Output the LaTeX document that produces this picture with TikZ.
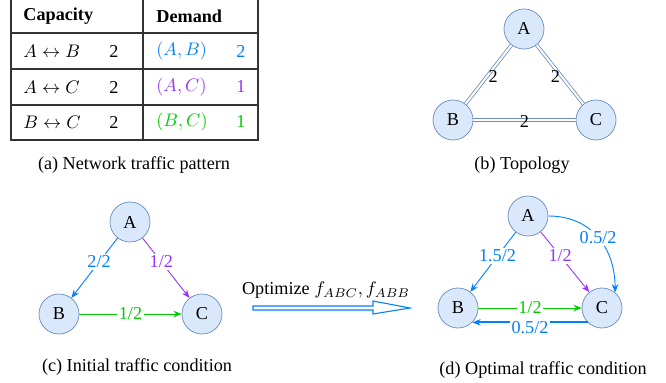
\documentclass[tikz,border=0pt]{standalone}
\usepackage{fontspec}
\setmainfont{Liberation Serif}
\usetikzlibrary{arrows.meta}
\definecolor{nodefill}{HTML}{DAE8FC}
\definecolor{nodeline}{HTML}{6C8EBF}
\definecolor{flowblue}{HTML}{007FFF}
\definecolor{flowpurple}{HTML}{9933FF}
\definecolor{flowgreen}{HTML}{00CC00}
\tikzset{
  site/.style={circle,draw=nodeline,fill=nodefill,minimum size=22pt,inner sep=0pt},
  link/.style={draw=nodeline,double=white,double distance=1.1pt,line width=0.45pt},
  flow/.style={-{Stealth[length=4.5pt,width=3.6pt]},line width=0.5pt},
  lbl/.style={fill=white,inner sep=1pt},
}
\begin{document}
\begin{tikzpicture}[x=0.55pt,y=-0.55pt,font=\fontsize{10}{12}\selectfont]
  \useasboundingbox (0,0) rectangle (666,383);
  % (a) table
  \draw[black!80,line width=0.6pt] (11,-3) rectangle (258,140);
  \draw[black!80,line width=0.6pt] (143,-3) -- (143,140);
  \foreach \y in {33,69,105}
    \draw[black!80,line width=0.6pt] (11,\y) -- (258,\y);
  \node[anchor=west] (hcap) at (17,16) {\textbf{Capacity}};
  \node[anchor=west] (hdem) at (150,16) {\textbf{Demand}};
  \node[anchor=west] (ab) at (17,51) {$A\leftrightarrow B$};
  \node[anchor=west] (ac) at (17,87) {$A\leftrightarrow C$};
  \node[anchor=west] (bc) at (17,122) {$B\leftrightarrow C$};
  \node (abv) at (114,51) {2};
  \node (acv) at (114,87) {2};
  \node (bcv) at (114,122) {2};
  \node[anchor=west,flowblue] (dab) at (150,51) {$(A,B)$};
  \node[anchor=west,flowpurple] (dac) at (150,87) {$(A,C)$};
  \node[anchor=west,flowgreen] (dbc) at (150,122) {$(B,C)$};
  \node[flowblue] (dabv) at (241,51) {2};
  \node[flowpurple] (dacv) at (241,87) {1};
  \node[flowgreen] (dbcv) at (241,122) {1};
  \node (capa) at (134,165) {(a) Network traffic pattern};
  % (b) topology
  \node[site] (a1) at (524,29) {A};
  \node[site] (b1) at (453,120) {B};
  \node[site] (c1) at (596,120) {C};
  \draw[link] (a1) -- node[xshift=2.5pt,yshift=-1pt] {2} (b1);
  \draw[link] (a1) -- node[xshift=-2.5pt,yshift=-1pt] {2} (c1);
  \draw[link] (b1) -- node[yshift=-1pt] {2} (c1);
  \node (capb) at (522,165) {(b) Topology};
  % (c) initial
  \node[site] (a2) at (130,222) {A};
  \node[site] (b2) at (59,314) {B};
  \node[site] (c2) at (202,314) {C};
  \draw[flow,flowblue] (a2) -- node[lbl,pos=0.4] {2/2} (b2);
  \draw[flow,flowpurple] (a2) -- node[lbl,pos=0.4] {1/2} (c2);
  \draw[flow,flowgreen] (b2) -- node[lbl] {1/2} (c2);
  \node (capc) at (137,367) {(c) Initial traffic condition};
  % optimize arrow
  \node (opt) at (326,290) {Optimize $f_{ABC},f_{ABB}$};
  \draw[flowblue,line width=0.6pt,fill=white]
    (253,306) -- (373,306) -- (373,301) -- (410,308) -- (373,314)
    -- (373,310) -- (253,310) -- cycle;
  % (d) optimal
  \node[site] (a3) at (528,216) {A};
  \node[site] (b3) at (458,308) {B};
  \node[site] (c3) at (602,308) {C};
  \draw[flow,flowblue] (a3) -- node[lbl,pos=0.4] {1.5/2} (b3);
  \draw[flow,flowpurple] (a3) -- node[lbl,pos=0.4] {1/2} (c3);
  \draw[flow,flowblue] (a3.east) to[out=0,in=90,looseness=1.1]
    node[lbl,pos=0.5] {0.5/2} (c3.50);
  \draw[flow,flowgreen] (b3) -- node[lbl] {1/2} (c3);
  \draw[flow,flowblue,line width=1pt] (c3.225) -- node[lbl,yshift=-3pt] {0.5/2} (b3.-45);
  \node (capd) at (543,370) {(d) Optimal traffic condition};
\end{tikzpicture}
\end{document}
